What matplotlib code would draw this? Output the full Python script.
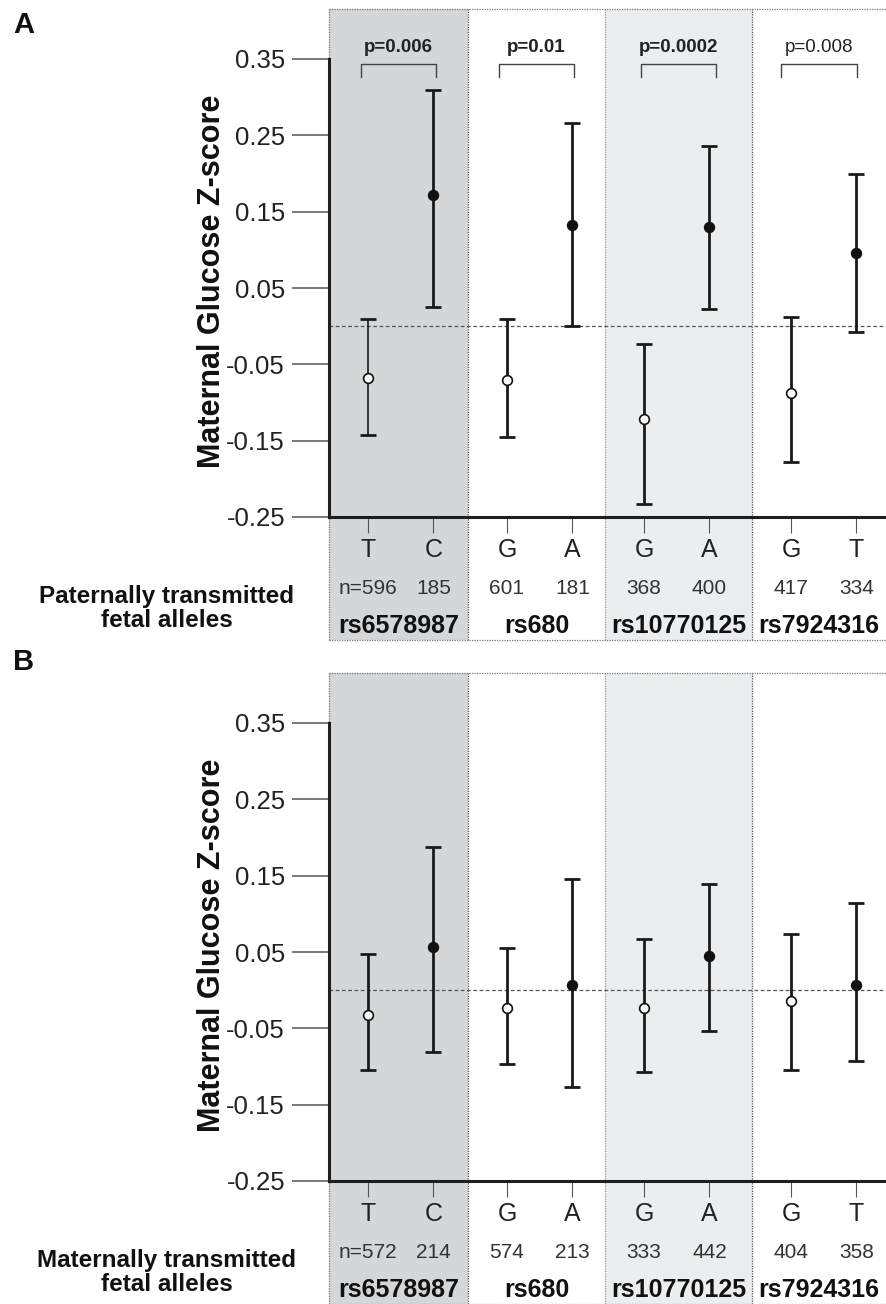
#!/usr/bin/env python3
# Maternal glucose Z-score by transmitted fetal allele (panels A and B)
import matplotlib
matplotlib.use("Agg")
import matplotlib.pyplot as plt

# --- data ---
snps = ["rs6578987", "rs680", "rs10770125", "rs7924316"]
alleles = ["T", "C", "G", "A", "G", "A", "G", "T"]
p_values = ["p=0.006", "p=0.01", "p=0.0002", "p=0.008"]

pat_n = ["n=596", "185", "601", "181", "368", "400", "417", "334"]
pat_mean = [-0.068, 0.172, -0.071, 0.133, -0.122, 0.130, -0.087, 0.096]
pat_lo = [-0.142, 0.025, -0.145, 0.000, -0.233, 0.023, -0.178, -0.007]
pat_hi = [0.010, 0.309, 0.009, 0.266, -0.023, 0.236, 0.012, 0.199]

mat_n = ["n=572", "214", "574", "213", "333", "442", "404", "358"]
mat_mean = [-0.033, 0.056, -0.024, 0.007, -0.023, 0.045, -0.014, 0.007]
mat_lo = [-0.104, -0.081, -0.097, -0.127, -0.107, -0.053, -0.104, -0.093]
mat_hi = [0.047, 0.187, 0.055, 0.145, 0.067, 0.139, 0.073, 0.114]

yticks = [-0.25, -0.15, -0.05, 0.05, 0.15, 0.25, 0.35]

# --- layout ---
edges = [0.0, 0.998, 1.982, 3.038, 4.0]
offsets = [0.28, 0.75]
band_colors = ["#d5d6d8", "white", "#ecedef", "white"]
edge_colors = ["#777777", "#555555", "#999999", "#555555"]
BAND_TOP, BAND_BOT = 1.109, -0.269

xs = []
for g in range(len(snps)):
    for o in offsets:
        xs.append(edges[g] + o)
centers = [(edges[g] + edges[g + 1]) / 2 for g in range(len(snps))]

plt.rcParams["font.family"] = ["Liberation Sans", "DejaVu Sans"]

W, H = 886, 1304
fig = plt.figure(figsize=(W / 100, H / 100), dpi=100)


def make_panel(top_px, means, lo, hi, ns, side_label, letter, letter_y, pvals=None):
    ax = fig.add_axes([329 / W, 1 - (top_px + 458) / H, 557 / W, 458 / H])
    ax.set_xlim(0, 4)
    ax.set_ylim(-0.25, 0.35)
    ax.patch.set_alpha(0)

    # allele bands, running past the axes above and below
    for g in range(len(snps)):
        ax.axvspan(edges[g], edges[g + 1], ymin=BAND_BOT, ymax=BAND_TOP,
                   color=band_colors[g], clip_on=False, zorder=0, lw=0)
        ax.axvline(edges[g], ymin=BAND_BOT, ymax=BAND_TOP, color=edge_colors[g],
                   ls=(0, (1, 1)), lw=0.9, clip_on=False, zorder=1)
    for yb in (BAND_TOP, BAND_BOT):
        ax.plot([0, 4], [yb, yb], transform=ax.get_xaxis_transform(),
                color="#777777", ls=(0, (1, 1)), lw=0.9, clip_on=False, zorder=1)

    ax.axhline(0, color="#555555", ls=(0, (3, 2)), lw=0.9, zorder=2)

    for i, x in enumerate(xs):
        lw = 1.2 if (pvals is not None and i == 0) else 2.0
        ax.errorbar([x], [means[i]], yerr=[[means[i] - lo[i]], [hi[i] - means[i]]],
                    fmt="none", ecolor="#1a1a1a", elinewidth=lw, capsize=5.5,
                    capthick=2.0, zorder=3)
        face = "white" if i % 2 == 0 else "#111111"
        ax.plot([x], [means[i]], "o", ms=7, mfc=face, mec="#111111", mew=1.2, zorder=4)

    for s in ["top", "right"]:
        ax.spines[s].set_visible(False)
    for s in ["left", "bottom"]:
        ax.spines[s].set_linewidth(2.2)
        ax.spines[s].set_color("#1e1e1e")

    ax.set_yticks(yticks)
    ax.set_yticklabels([f"{v:.2f}" for v in yticks])
    ax.tick_params(axis="y", direction="out", length=26.6, width=1.1, color="#555555",
                   pad=5, labelsize=18.5, labelcolor="#222222")
    ax.set_xticks(xs)
    ax.tick_params(axis="x", direction="out", length=11.5, width=0.8, color="#555555",
                   labelbottom=False)

    trans = ax.get_xaxis_transform()
    for i, x in enumerate(xs):
        ax.text(x, -0.072, alleles[i], transform=trans, ha="center", va="center",
                fontsize=18, color="#222222")
        ax.text(x, -0.157, ns[i], transform=trans, ha="center", va="center",
                fontsize=15, color="#333333")
    for g, c in enumerate(centers):
        ax.text(c, -0.237, snps[g], transform=trans, ha="center", va="center",
                fontsize=18, fontweight="bold", color="#111111")

    ax.text(-0.291, -0.2, side_label, transform=ax.transAxes, ha="center",
            va="center", fontsize=17.5, fontweight="bold", linespacing=1.05,
            color="#111111")
    ax.text(-0.21, 0.515, "Maternal Glucose Z-score", transform=ax.transAxes,
            rotation=90, ha="center", va="center", fontsize=22, fontweight="bold",
            color="#111111")
    fig.text(24 / W, 1 - letter_y / H, letter, ha="center", va="center",
             fontsize=21, fontweight="bold", color="#111111")

    if pvals:
        for g, c in enumerate(centers):
            left, right = c - 0.27, c + 0.27
            ax.plot([left, left, right, right], [0.326, 0.3435, 0.3435, 0.326],
                    color="#444444", lw=1.0, clip_on=False, zorder=3)
            weight = "normal" if g == 3 else "bold"
            ax.text(c, 1.026, pvals[g], transform=trans, ha="center", va="center",
                    fontsize=13.5, fontweight=weight, color="#222222")
    return ax


make_panel(59, pat_mean, pat_lo, pat_hi, pat_n,
           "Paternally transmitted\nfetal alleles", "A", 25, p_values)
make_panel(723, mat_mean, mat_lo, mat_hi, mat_n,
           "Maternally transmitted\nfetal alleles", "B", 662)

fig.savefig("out.png", dpi=100, facecolor="white")
